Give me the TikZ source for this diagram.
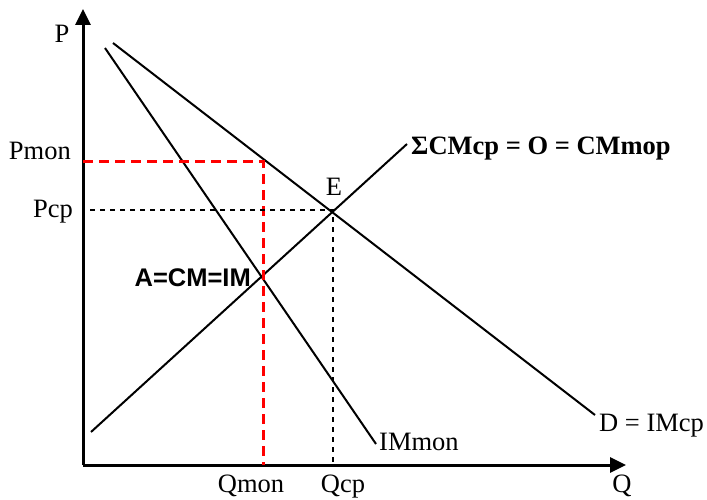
\documentclass[tikz,border=0pt]{standalone}
\usepackage{fontspec}
\setmainfont{Liberation Serif}
\newfontfamily\sansb{Liberation Sans}
\usetikzlibrary{arrows.meta}
\begin{document}
\begin{tikzpicture}[x=1pt,y=-1pt,
  lbl/.style={inner sep=0pt,font=\fontsize{26.5}{30}\selectfont},
  axis/.style={line width=3pt,-{Triangle[length=16pt,width=15pt]}},
  curve/.style={line width=2pt},
  reddash/.style={line width=3pt,red,dash pattern=on 10pt off 6pt},
  blackdash/.style={line width=1.6pt,dash pattern=on 5pt off 5pt}]
\useasboundingbox (0,0) rectangle (707,500);
% axes
\coordinate (O) at (83,465);
\coordinate (Ytip) at (83,9);
\coordinate (Xtip) at (626,465);
\draw[axis] (O) -- (Ytip);
\draw[axis] (O) -- (Xtip);
% curves
\coordinate (D1) at (113,43);
\coordinate (D2) at (595,415);
\coordinate (M1) at (105,48);
\coordinate (M2) at (376,444);
\coordinate (S1) at (91,432);
\coordinate (S2) at (407,144);
\draw[curve] (D1) -- (D2);
\draw[curve] (M1) -- (M2);
\draw[curve] (S1) -- (S2);
% key points
\coordinate (A) at (263,278);
\coordinate (Pm) at (263,162);
\coordinate (E) at (333,210);
\coordinate (Pmy) at (83,162);
\coordinate (Qm) at (263,465);
\coordinate (Pcy) at (90,210);
\coordinate (Qc) at (333,465);
\draw[reddash] (Pmy) -- (Pm) -- (Qm);
\draw[blackdash] (Pcy) -- (E) -- (Qc);
% labels
\node[lbl,anchor=base] (lP) at (62,43) {P};
\node[lbl,anchor=base east] (lPmon) at (71,160) {Pmon};
\node[lbl,anchor=base east] (lPcp) at (73,217) {Pcp};
\node[lbl,anchor=base] (lE) at (334,196) {E};
\node[lbl,anchor=base east,font=\sansb\bfseries\fontsize{25.5}{29}\selectfont] (lA) at (251,286) {A=CM=IM};
\node[lbl,anchor=base west,font=\bfseries\fontsize{26.5}{30}\selectfont] (lS) at (411,155) {ΣCMcp = O = CMmop};
\node[lbl,anchor=base west] (lIM) at (379,450) {IMmon};
\node[lbl,anchor=base west] (lD) at (599,431) {D = IMcp};
\node[lbl,anchor=base] (lQm) at (251,492) {Qmon};
\node[lbl,anchor=base] (lQc) at (343,492) {Qcp};
\node[lbl,anchor=base] (lQ) at (622,492) {Q};
\end{tikzpicture}
\end{document}
